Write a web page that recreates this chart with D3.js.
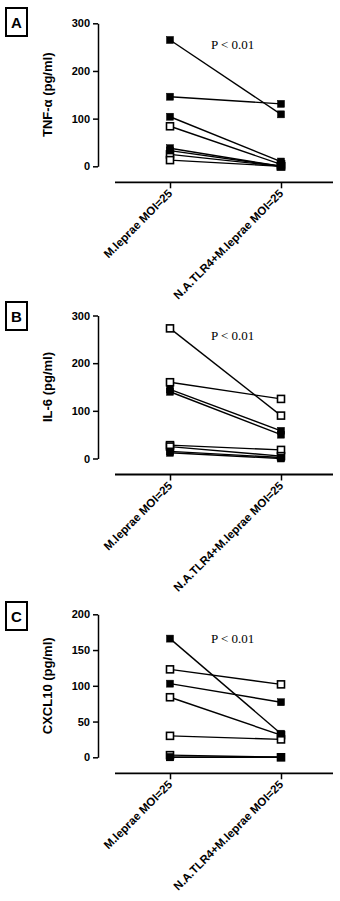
<!DOCTYPE html>
<html>
<head>
<meta charset="utf-8">
<script src="https://cdn.jsdelivr.net/npm/d3@7/dist/d3.min.js"></script>
<style>
  body { margin: 0; background: #fff; }
  svg { display: block; }
</style>
</head>
<body>
<svg id="chart"></svg>
<script>
var width = 340, height = 901;

// categories and labels
var groups = ["M.leprae MOI=25", "N.A.TLR4+M.leprae MOI=25"];
var letters = ["A", "B", "C"];
var yTitles = ["TNF-\u03b1 (pg/ml)", "IL-6 (pg/ml)", "CXCL10 (pg/ml)"];
var pLabel = "P < 0.01";

// TNF-a, one entry per donor
var tnfTicks = [0, 100, 200, 300];
var tnfBefore = [265, 146, 104, 84, 38, 33, 25, 13];
var tnfAfter = [109, 131, 10, 4, 0, 0, 0, 0];
var tnfOpen = [false, false, false, true, false, false, true, true];

// IL-6
var il6Ticks = [0, 100, 200, 300];
var il6Before = [273, 160, 145, 140, 28, 25, 15, 12];
var il6After = [90, 125, 58, 50, 18, 5, 2, 0];
var il6Open = [true, true, false, false, true, true, false, false];

// CXCL10
var cxTicks = [0, 50, 100, 150, 200];
var cxBefore = [166, 123, 103, 84, 30, 3, 0, 0];
var cxAfter = [33, 102, 77, 31, 25, 0, 0, 0];
var cxOpen = [false, true, false, true, true, true, false, false];

var panels = [
    { ticks: tnfTicks, before: tnfBefore, after: tnfAfter, open: tnfOpen, top: 23.3, boxTop: 8, pDy: 26 },
    { ticks: il6Ticks, before: il6Before, after: il6After, open: il6Open, top: 315.5, boxTop: 302, pDy: 24 },
    { ticks: cxTicks, before: cxBefore, after: cxAfter, open: cxOpen, top: 614.3, boxTop: 602, pDy: 29 }
];

var plotH = 143, axisX = 98, markSize = 7;

var svg = d3.select("#chart")
    .attr("width", width)
    .attr("height", height);

svg.append("rect")
    .attr("width", width)
    .attr("height", height)
    .attr("fill", "#fff");

var x = d3.scalePoint()
    .domain(groups)
    .range([170, 281]);

panels.forEach(function(p, i) {
    var g = svg.append("g");
    var zeroY = p.top + plotH;
    var xAxisY = zeroY + 16;

    var y = d3.scaleLinear()
        .domain([0, d3.max(p.ticks)])
        .range([zeroY, p.top]);

    // panel letter box
    g.append("rect")
        .attr("x", 6)
        .attr("y", p.boxTop)
        .attr("width", 21)
        .attr("height", 28)
        .attr("fill", "none")
        .attr("stroke", "#000")
        .attr("stroke-width", 2);
    g.append("text")
        .attr("x", 16.5)
        .attr("y", p.boxTop + 19.5)
        .attr("text-anchor", "middle")
        .style("font-family", "Liberation Sans, Arial, sans-serif")
        .style("font-weight", "bold")
        .style("font-size", "15px")
        .text(letters[i]);

    // y axis
    var yAxis = d3.axisLeft(y)
        .tickValues(p.ticks)
        .tickSize(5)
        .tickSizeOuter(0)
        .tickPadding(3)
        .tickFormat(d3.format("d"));
    var ya = g.append("g")
        .attr("transform", "translate(" + axisX + ",0)")
        .call(yAxis);
    ya.selectAll("path, line").attr("stroke", "#000").attr("stroke-width", 1.5);
    ya.selectAll("text")
        .style("font-family", "Liberation Sans, Arial, sans-serif")
        .style("font-weight", "bold")
        .style("font-size", "11px")
        .attr("fill", "#000");

    g.append("text")
        .attr("transform", "translate(52," + (p.top + plotH / 2) + ") rotate(-90)")
        .attr("text-anchor", "middle")
        .style("font-family", "Liberation Sans, Arial, sans-serif")
        .style("font-weight", "bold")
        .style("font-size", "13px")
        .text(yTitles[i]);

    // x axis
    g.append("line")
        .attr("x1", 115)
        .attr("x2", 333)
        .attr("y1", xAxisY)
        .attr("y2", xAxisY)
        .attr("stroke", "#000")
        .attr("stroke-width", 1.8);
    var xAxis = d3.axisBottom(x).tickSize(6).tickFormat("");
    var xa = g.append("g")
        .attr("transform", "translate(0," + xAxisY + ")")
        .call(xAxis);
    xa.select(".domain").remove();
    xa.selectAll("line").attr("stroke", "#000").attr("stroke-width", 1.5);

    g.selectAll(".xlab")
        .data(groups)
        .enter().append("text")
        .attr("transform", function(d) { return "translate(" + (x(d) + 3) + "," + (xAxisY + 12) + ") rotate(-45)"; })
        .attr("text-anchor", "end")
        .style("font-family", "Liberation Sans, Arial, sans-serif")
        .style("font-weight", "bold")
        .style("font-size", "11.5px")
        .text(function(d) { return d; });

    // paired lines
    var pairs = p.before.map(function(b, k) {
        return { b: b, a: p.after[k], open: p.open[k] };
    });
    g.selectAll(".pair")
        .data(pairs)
        .enter().append("line")
        .attr("x1", x(groups[0]))
        .attr("x2", x(groups[1]))
        .attr("y1", function(d) { return y(d.b); })
        .attr("y2", function(d) { return y(d.a); })
        .attr("stroke", "#000")
        .attr("stroke-width", 1.4);

    // markers, open first so filled sit on top
    var marks = [];
    pairs.forEach(function(d) {
        marks.push({ g: groups[0], v: d.b, open: d.open });
        marks.push({ g: groups[1], v: d.a, open: d.open });
    });
    marks.sort(function(m1, m2) { return (m2.open ? 1 : 0) - (m1.open ? 1 : 0); });
    g.selectAll(".mark")
        .data(marks)
        .enter().append("rect")
        .attr("x", function(d) { return x(d.g) - markSize / 2; })
        .attr("y", function(d) { return y(d.v) - markSize / 2; })
        .attr("width", markSize)
        .attr("height", markSize)
        .attr("fill", function(d) { return d.open ? "#fff" : "#000"; })
        .attr("stroke", "#000")
        .attr("stroke-width", function(d) { return d.open ? 1.6 : 0.5; });

    g.append("text")
        .attr("x", 211)
        .attr("y", p.top + p.pDy)
        .style("font-family", "Liberation Serif, Times New Roman, serif")
        .style("font-size", "13px")
        .text(pLabel);
});
</script>
</body>
</html>
